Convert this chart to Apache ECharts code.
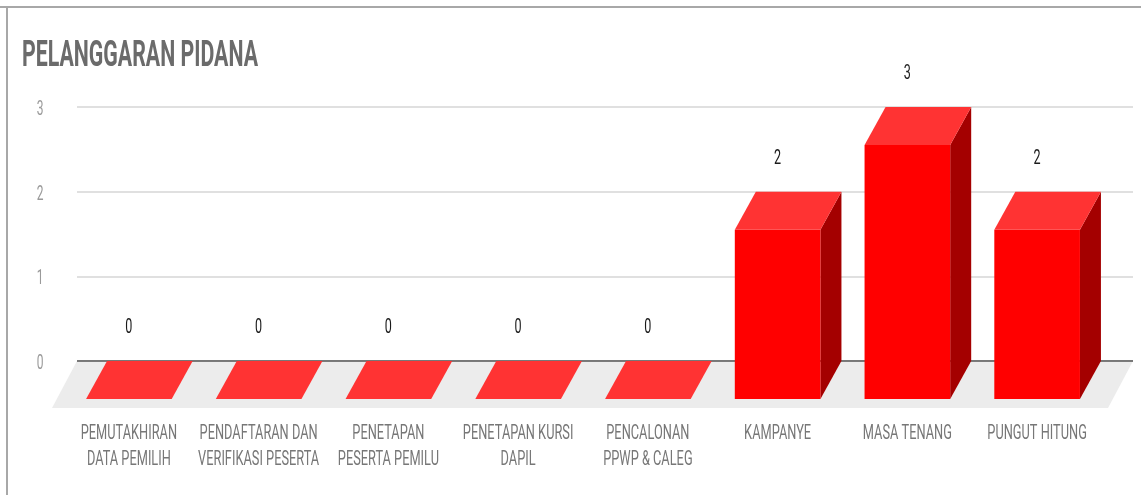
<!DOCTYPE html>
<html>
<head>
<meta charset="utf-8">
<script src="https://cdn.jsdelivr.net/npm/echarts@6/dist/echarts.min.js"></script>
<style>
  html, body { margin: 0; padding: 0; background: #ffffff; }
  #chart { width: 1141px; height: 495px; }
</style>
</head>
<body>
<div id="chart"></div>
<script>
// Data
const titleText = 'PELANGGARAN PIDANA';
const categories = [
  'PEMUTAKHIRAN\nDATA PEMILIH',
  'PENDAFTARAN DAN\nVERIFIKASI PESERTA',
  'PENETAPAN\nPESERTA PEMILU',
  'PENETAPAN KURSI\nDAPIL',
  'PENCALONAN\nPPWP & CALEG',
  'KAMPANYE',
  'MASA TENANG',
  'PUNGUT HITUNG'
];
const values = [0, 0, 0, 0, 0, 2, 3, 2];
const yTicks = [0, 1, 2, 3];

// Layout and style constants
const BACK = { left: 77, top: 107, width: 1056, height: 254 };   // rear wall (gridlines)
const DEPTH = { x: 21, y: 38 };                                   // bar depth offset (front -> back)
const FLOOR_DEPTH = { x: -25, y: 47 };                            // floor depth offset (back -> front)
const FRONT = { left: 64, top: BACK.top + DEPTH.y, width: 1038, height: BACK.height };
const BAR_RATIO = 0.66;
const SQUEEZE = 0.6;        // narrow lettering
const FONT = 'Roboto, "Noto Sans", sans-serif';

const COLORS = {
  front: '#ff0000',
  top: '#ff3333',
  side: '#a40000',
  floor: '#ececec',
  zeroLine: '#555555',
  grid: '#d6d6d6',
  title: '#6b6b6b',
  category: '#777777',
  tick: '#9a9a9a',
  value: '#1a1a1a',
  frame: '#a8a8a8'
};

function squeezedText(x, y, text, opts) {
  return {
    type: 'text',
    x: x,
    y: y,
    scaleX: opts.scaleX || SQUEEZE,
    silent: true,
    style: {
      text: text,
      x: 0,
      y: 0,
      fill: opts.fill,
      font: opts.font,
      align: opts.align || 'center',
      verticalAlign: opts.verticalAlign || 'middle',
      lineHeight: opts.lineHeight
    }
  };
}

const chart = echarts.init(document.getElementById('chart'), null, { renderer: 'canvas' });

const option = {
  backgroundColor: '#ffffff',
  animation: false,
  graphic: [
    { type: 'line', silent: true, shape: { x1: 0, y1: 7, x2: 1141, y2: 7 }, style: { stroke: COLORS.frame, lineWidth: 2 } },
    { type: 'line', silent: true, shape: { x1: 7, y1: 6, x2: 7, y2: 495 }, style: { stroke: COLORS.frame, lineWidth: 2 } },
    {
      type: 'text', x: 22, y: 57, scaleX: 0.576, silent: true,
      style: { text: titleText, fill: COLORS.title, font: 'bold 37px ' + FONT, align: 'left', verticalAlign: 'middle' }
    }
  ],
  grid: [
    { left: BACK.left, top: BACK.top, width: BACK.width, height: BACK.height, containLabel: false },
    { left: FRONT.left, top: FRONT.top, width: FRONT.width, height: FRONT.height, containLabel: false }
  ],
  xAxis: [
    { type: 'value', gridIndex: 0, min: 0, max: 1, show: false },
    { type: 'category', gridIndex: 1, data: categories, show: false }
  ],
  yAxis: [
    {
      type: 'value', gridIndex: 0, min: 0, max: 3, interval: 1,
      axisLine: { show: false }, axisTick: { show: false }, axisLabel: { show: false },
      splitLine: { show: true, lineStyle: { color: COLORS.grid, width: 1.5 } }
    },
    { type: 'value', gridIndex: 1, min: 0, max: 3, interval: 1, show: false, splitLine: { show: false } }
  ],
  series: [
    {
      // floor plane and zero line
      type: 'custom', xAxisIndex: 0, yAxisIndex: 0, z: 1, clip: false, silent: true,
      data: [[0, 0]],
      renderItem: function (params, api) {
        const a = api.coord([0, 0]);
        const b = api.coord([1, 0]);
        return {
          type: 'group',
          children: [
            {
              type: 'polygon',
              shape: { points: [a, b, [b[0] + FLOOR_DEPTH.x, b[1] + FLOOR_DEPTH.y], [a[0] + FLOOR_DEPTH.x, a[1] + FLOOR_DEPTH.y]] },
              style: { fill: COLORS.floor }
            },
            {
              type: 'line',
              shape: { x1: a[0], y1: a[1], x2: b[0], y2: b[1] },
              style: { stroke: COLORS.zeroLine, lineWidth: 1.5 }
            }
          ]
        };
      }
    },
    {
      // y tick labels
      type: 'custom', xAxisIndex: 0, yAxisIndex: 0, z: 4, clip: false, silent: true,
      data: yTicks.map(function (t) { return [0, t]; }),
      renderItem: function (params, api) {
        const p = api.coord([0, api.value(1)]);
        return squeezedText(p[0] - 37, p[1] + 3, String(api.value(1)), { fill: COLORS.tick, font: '20px ' + FONT });
      }
    },
    {
      // 3D bars with value labels
      type: 'custom', xAxisIndex: 1, yAxisIndex: 1, z: 3, clip: false, silent: true,
      data: values.map(function (v, i) { return [i, v]; }),
      renderItem: function (params, api) {
        const i = api.value(0);
        const v = api.value(1);
        const top = api.coord([i, v]);
        const base = api.coord([i, 0]);
        const w = api.size([1, 0])[0] * BAR_RATIO;
        const xl = top[0] - w / 2;
        const xr = top[0] + w / 2;
        const dx = DEPTH.x, dy = -DEPTH.y;
        const children = [];
        if (v > 0) {
          children.push({
            type: 'polygon',
            shape: { points: [[xr, top[1]], [xr + dx, top[1] + dy], [xr + dx, base[1] + dy], [xr, base[1]]] },
            style: { fill: COLORS.side }
          });
          children.push({
            type: 'rect',
            shape: { x: xl, y: top[1], width: w, height: base[1] - top[1] },
            style: { fill: COLORS.front }
          });
        }
        children.push({
          type: 'polygon',
          shape: { points: [[xl, top[1]], [xr, top[1]], [xr + dx, top[1] + dy], [xl + dx, top[1] + dy]] },
          style: { fill: COLORS.top }
        });
        children.push(squeezedText(top[0], top[1] + dy - 33, String(v), { fill: COLORS.value, font: '21px ' + FONT }));
        return { type: 'group', children: children };
      }
    },
    {
      // category labels
      type: 'custom', xAxisIndex: 1, yAxisIndex: 1, z: 4, clip: false, silent: true,
      data: categories.map(function (c, i) { return [i, 0]; }),
      renderItem: function (params, api) {
        const i = api.value(0);
        const p = api.coord([i, 0]);
        return squeezedText(p[0], p[1] + 22, categories[i], {
          fill: COLORS.category, font: '20px ' + FONT, verticalAlign: 'top', lineHeight: 26, scaleX: 0.64
        });
      }
    }
  ]
};

chart.setOption(option);
</script>
</body>
</html>
